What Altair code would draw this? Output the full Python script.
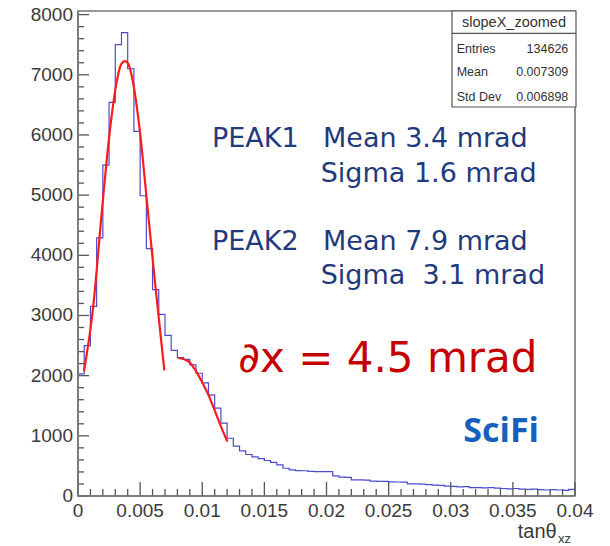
import altair as alt
import pandas as pd

# ---------------- data ----------------
bin_width = 0.0005
counts = [2030, 2500, 3150, 4290, 5500, 6540, 7500, 7700, 7100, 6060,
          4990, 4110, 3430, 3020, 2670, 2420, 2300, 2270, 2180, 2040,
          1880, 1680, 1460, 1210, 960, 830, 750, 690, 650, 620,
          590, 560, 517, 461, 433, 422, 420, 408, 406, 404,
          406, 333, 313, 309, 268, 267, 265, 246, 244, 242,
          235, 233, 231, 203, 200, 198, 190, 180, 175, 165,
          160, 150, 155, 140, 140, 135, 140, 130, 125, 120,
          125, 115, 110, 115, 105, 100, 105, 100, 95, 110]

fit1_x = [0.00048, 0.00123, 0.00191, 0.00258, 0.00311, 0.00343, 0.00378,
          0.00405, 0.00432, 0.00499, 0.00553, 0.00620, 0.00695]
fit1_y = [2072, 3156, 4711, 6100, 6878, 7156, 7228, 7183, 6989, 6044, 4933, 3544, 2089]

fit2_x = [0.00807, 0.00888, 0.00942, 0.00995, 0.01049, 0.01103, 0.01156, 0.01202]
fit2_y = [2294, 2239, 2100, 1906, 1683, 1406, 1128, 906]

x_major = [0, 0.005, 0.01, 0.015, 0.02, 0.025, 0.03, 0.035, 0.04]
x_major_labels = ["0", "0.005", "0.01", "0.015", "0.02", "0.025", "0.03", "0.035", "0.04"]
x_minor = [round(i * 0.001, 3) for i in range(41) if i % 5 != 0]
y_major = [0, 1000, 2000, 3000, 4000, 5000, 6000, 7000, 8000]
y_major_labels = ["0", "1000", "2000", "3000", "4000", "5000", "6000", "7000", "8000"]
y_minor = [v for v in range(0, 8001, 200) if v % 1000 != 0]

stats_title = "slopeX_zoomed"
stats_names = ["Entries", "Mean", "Std Dev"]
stats_values = ["134626", "0.007309", "0.006898"]
peak_labels = ["PEAK1", "PEAK2"]
peak_means = ["Mean 3.4 mrad", "Mean 7.9 mrad"]
peak_sigmas = ["Sigma 1.6 mrad", "Sigma\u00a0\u00a03.1 mrad"]
resolution_text = "\u2202x = 4.5 mrad"
logo_text = "SciFi"
x_title = "tan\u03b8"
x_title_sub = "xz"

# ---------------- chart ----------------
W, H = 497, 485
xs = alt.Scale(domain=[0, 0.04], nice=False, zero=False)
ys = alt.Scale(domain=[0, 8060], nice=False)

edges = [i * bin_width for i in range(len(counts) + 1)]
hist_df = pd.DataFrame({"x": edges, "y": counts + [counts[-1]]})

label_font = "Liberation Sans"
label_color = "#3a3a3a"

hist = alt.Chart(hist_df).mark_line(
    interpolate="step-after", color="#4b4bd2", strokeWidth=1.2
).encode(
    x=alt.X("x:Q", scale=xs, axis=None),
    y=alt.Y("y:Q", scale=ys, axis=None),
)

fit1 = alt.Chart(pd.DataFrame({"x": fit1_x, "y": fit1_y})).mark_line(
    interpolate="monotone", color="#ff1a1a", strokeWidth=2.2
).encode(x=alt.X("x:Q", scale=xs, axis=None), y=alt.Y("y:Q", scale=ys, axis=None))

fit2 = alt.Chart(pd.DataFrame({"x": fit2_x, "y": fit2_y})).mark_line(
    interpolate="monotone", color="#ff1a1a", strokeWidth=2.2
).encode(x=alt.X("x:Q", scale=xs, axis=None), y=alt.Y("y:Q", scale=ys, axis=None))

tick_color = "#555555"

def ytick(vals, length):
    return alt.Chart(pd.DataFrame({"v": vals})).mark_rule(
        color=tick_color, strokeWidth=1.3
    ).encode(y=alt.Y("v:Q", scale=ys, axis=None), x=alt.value(0), x2=alt.value(length))

def xtick(vals, length):
    return alt.Chart(pd.DataFrame({"v": vals})).mark_rule(
        color=tick_color, strokeWidth=1.3
    ).encode(x=alt.X("v:Q", scale=xs, axis=None), y=alt.value(H), y2=alt.value(H - length))

# tick labels drawn through the scales
ylab = alt.Chart(pd.DataFrame({"v": y_major, "t": y_major_labels})).mark_text(
    align="right", baseline="middle", font=label_font, fontSize=19, color=label_color, dx=-5
).encode(y=alt.Y("v:Q", scale=ys, axis=None), x=alt.value(0), text="t:N")

xlab = alt.Chart(pd.DataFrame({"v": x_major, "t": x_major_labels})).mark_text(
    align="center", baseline="top", font=label_font, fontSize=19, color=label_color, dy=6
).encode(x=alt.X("v:Q", scale=xs, axis=None), y=alt.value(H), text="t:N")

axis_lines = [
    alt.Chart(pd.DataFrame({"a": [0]})).mark_rule(color="#777777", strokeWidth=1.6).encode(
        x=alt.value(0), y=alt.value(0), y2=alt.value(H)),
    alt.Chart(pd.DataFrame({"a": [0]})).mark_rule(color="#777777", strokeWidth=1.6).encode(
        x=alt.value(0), x2=alt.value(W), y=alt.value(H)),
]

one = pd.DataFrame({"a": [0]})

def txt(s, x, y, size, color, font, align="left", weight="normal"):
    return alt.Chart(one).mark_text(
        align=align, baseline="alphabetic", fontSize=size, color=color,
        font=font, fontWeight=weight
    ).encode(x=alt.value(x), y=alt.value(y), text=alt.value(s))

# stats box
bx0, bx1, by0, by1 = 374, 498, 0, 96
box = alt.Chart(one).mark_rect(fill="white", stroke="#555555", strokeWidth=1.2).encode(
    x=alt.value(bx0), x2=alt.value(bx1), y=alt.value(by0), y2=alt.value(by1))
box_sep = alt.Chart(one).mark_rule(color="#555555", strokeWidth=1.2).encode(
    x=alt.value(bx0), x2=alt.value(bx1), y=alt.value(22.3))

stats_layers = [txt(stats_title, (bx0 + bx1) / 2, 16, 14.5, "#333333", label_font, align="center")]
rows_y = [41.7, 65, 90]
for name, val, yy in zip(stats_names, stats_values, rows_y):
    stats_layers.append(txt(name, 378.7, yy, 12.5, "#333333", label_font))
    stats_layers.append(txt(val, 490.3, yy, 12.5, "#333333", label_font, align="right"))

navy = "#1f3a7d"
big_font = "DejaVu Sans"
ann = [
    txt(peak_labels[0], 134, 136.3, 27, navy, big_font),
    txt(peak_means[0], 245, 136.3, 27, navy, big_font),
    txt(peak_sigmas[0], 242.7, 170.7, 27, navy, big_font),
    txt(peak_labels[1], 134, 239, 27, navy, big_font),
    txt(peak_means[1], 245, 239, 27, navy, big_font),
    txt(peak_sigmas[1], 242.7, 273, 27, navy, big_font),
    txt(resolution_text, 160.3, 360.7, 42, "#c40000", big_font),
    txt(logo_text, 385.3, 430.7, 34, "#1560bd", "Open Sans", weight="bold"),
    txt(x_title, 478.7, 527, 20, label_color, label_font, align="right"),
    txt(x_title_sub, 480, 532, 13, label_color, label_font),
]

chart = alt.layer(
    hist, fit1, fit2,
    ytick(y_minor, 6), ytick(y_major, 11),
    xtick(x_minor, 7), xtick(x_major, 14),
    *axis_lines, ylab, xlab,
    box, box_sep, *stats_layers, *ann,
).properties(
    width=W, height=H,
    autosize=alt.AutoSizeParams(type="none"),
    padding={"left": 78, "top": 11, "right": 35, "bottom": 50},
    background="white",
).configure_view(stroke="#777777", strokeWidth=1.6)

chart.save("out.html", embed_options={"renderer": "svg", "actions": False})
